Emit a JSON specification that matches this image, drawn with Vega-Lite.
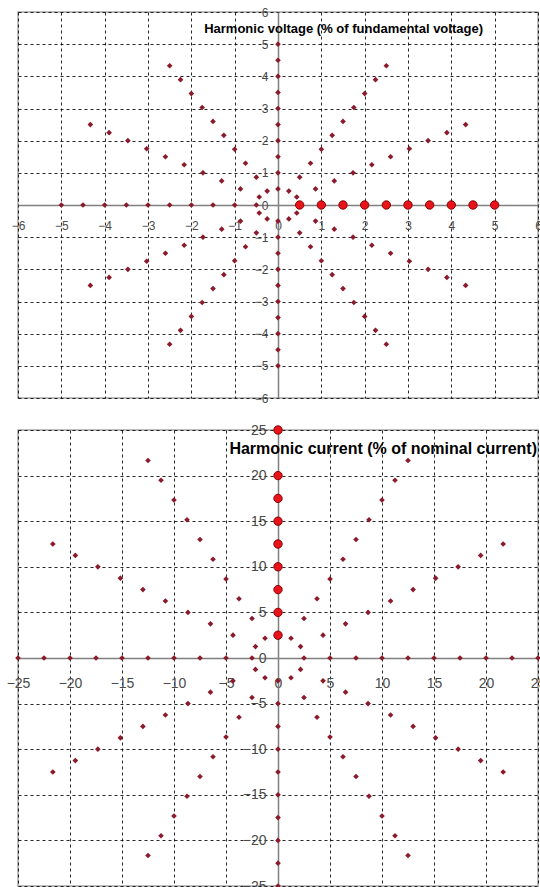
{
  "$schema": "https://vega.github.io/schema/vega-lite/v6.json",
  "background": "white",
  "padding": {"left": 5, "top": 5, "right": 2, "bottom": 2},
  "bounds": "flush",
  "spacing": 32,
  "config": {
    "font": "Liberation Sans",
    "view": {"stroke": "#a6a6a6", "strokeWidth": 1.5},
    "axis": {
      "labelFont": "Liberation Sans",
      "labelFontSize": 12,
      "labelColor": "#4a4a4a",
      "domainColor": "#808080",
      "domainWidth": 1.5,
      "gridColor": "#000000",
      "gridDash": [3, 3],
      "gridOpacity": 0.85,
      "ticks": false,
      "labelOverlap": false,
      "labelFlush": false,
      "labelBound": false,
      "title": null
    },
    "title": {"font": "Liberation Sans", "fontWeight": "bold", "color": "#000000"}
  },
  "datasets": {
    "voltageOther": [
      {"x":0.433,"y":0.25},{"x":0.866,"y":0.5},{"x":1.299,"y":0.75},{"x":1.732,"y":1},{"x":2.165,"y":1.25},{"x":2.598,"y":1.5},{"x":3.031,"y":1.75},{"x":3.464,"y":2},{"x":3.897,"y":2.25},{"x":4.33,"y":2.5},
      {"x":0.25,"y":0.433},{"x":0.5,"y":0.866},{"x":0.75,"y":1.299},{"x":1,"y":1.732},{"x":1.25,"y":2.165},{"x":1.5,"y":2.598},{"x":1.75,"y":3.031},{"x":2,"y":3.464},{"x":2.25,"y":3.897},{"x":2.5,"y":4.33},
      {"x":0,"y":0.5},{"x":0,"y":1},{"x":0,"y":1.5},{"x":0,"y":2},{"x":0,"y":2.5},{"x":0,"y":3},{"x":0,"y":3.5},{"x":0,"y":4},{"x":0,"y":4.5},{"x":0,"y":5},
      {"x":-0.25,"y":0.433},{"x":-0.5,"y":0.866},{"x":-0.75,"y":1.299},{"x":-1,"y":1.732},{"x":-1.25,"y":2.165},{"x":-1.5,"y":2.598},{"x":-1.75,"y":3.031},{"x":-2,"y":3.464},{"x":-2.25,"y":3.897},{"x":-2.5,"y":4.33},
      {"x":-0.433,"y":0.25},{"x":-0.866,"y":0.5},{"x":-1.299,"y":0.75},{"x":-1.732,"y":1},{"x":-2.165,"y":1.25},{"x":-2.598,"y":1.5},{"x":-3.031,"y":1.75},{"x":-3.464,"y":2},{"x":-3.897,"y":2.25},{"x":-4.33,"y":2.5},
      {"x":-0.5,"y":0},{"x":-1,"y":0},{"x":-1.5,"y":0},{"x":-2,"y":0},{"x":-2.5,"y":0},{"x":-3,"y":0},{"x":-3.5,"y":0},{"x":-4,"y":0},{"x":-4.5,"y":0},{"x":-5,"y":0},
      {"x":-0.433,"y":-0.25},{"x":-0.866,"y":-0.5},{"x":-1.299,"y":-0.75},{"x":-1.732,"y":-1},{"x":-2.165,"y":-1.25},{"x":-2.598,"y":-1.5},{"x":-3.031,"y":-1.75},{"x":-3.464,"y":-2},{"x":-3.897,"y":-2.25},{"x":-4.33,"y":-2.5},
      {"x":-0.25,"y":-0.433},{"x":-0.5,"y":-0.866},{"x":-0.75,"y":-1.299},{"x":-1,"y":-1.732},{"x":-1.25,"y":-2.165},{"x":-1.5,"y":-2.598},{"x":-1.75,"y":-3.031},{"x":-2,"y":-3.464},{"x":-2.25,"y":-3.897},{"x":-2.5,"y":-4.33},
      {"x":0,"y":-0.5},{"x":0,"y":-1},{"x":0,"y":-1.5},{"x":0,"y":-2},{"x":0,"y":-2.5},{"x":0,"y":-3},{"x":0,"y":-3.5},{"x":0,"y":-4},{"x":0,"y":-4.5},{"x":0,"y":-5},
      {"x":0.25,"y":-0.433},{"x":0.5,"y":-0.866},{"x":0.75,"y":-1.299},{"x":1,"y":-1.732},{"x":1.25,"y":-2.165},{"x":1.5,"y":-2.598},{"x":1.75,"y":-3.031},{"x":2,"y":-3.464},{"x":2.25,"y":-3.897},{"x":2.5,"y":-4.33},
      {"x":0.433,"y":-0.25},{"x":0.866,"y":-0.5},{"x":1.299,"y":-0.75},{"x":1.732,"y":-1},{"x":2.165,"y":-1.25},{"x":2.598,"y":-1.5},{"x":3.031,"y":-1.75},{"x":3.464,"y":-2},{"x":3.897,"y":-2.25},{"x":4.33,"y":-2.5}
    ],
    "voltageMain": [
      {"x":0.5,"y":0},{"x":1,"y":0},{"x":1.5,"y":0},{"x":2,"y":0},{"x":2.5,"y":0},{"x":3,"y":0},{"x":3.5,"y":0},{"x":4,"y":0},{"x":4.5,"y":0},{"x":5,"y":0}
    ],
    "currentOther": [
      {"x":2.5,"y":0},{"x":5,"y":0},{"x":7.5,"y":0},{"x":10,"y":0},{"x":12.5,"y":0},{"x":15,"y":0},{"x":17.5,"y":0},{"x":20,"y":0},{"x":22.5,"y":0},{"x":25,"y":0},
      {"x":2.165,"y":1.25},{"x":4.33,"y":2.5},{"x":6.495,"y":3.75},{"x":8.66,"y":5},{"x":10.825,"y":6.25},{"x":12.99,"y":7.5},{"x":15.155,"y":8.75},{"x":17.321,"y":10},{"x":19.486,"y":11.25},{"x":21.651,"y":12.5},
      {"x":1.25,"y":2.165},{"x":2.5,"y":4.33},{"x":3.75,"y":6.495},{"x":5,"y":8.66},{"x":6.25,"y":10.825},{"x":7.5,"y":12.99},{"x":8.75,"y":15.155},{"x":10,"y":17.321},{"x":11.25,"y":19.486},{"x":12.5,"y":21.651},
      {"x":-1.25,"y":2.165},{"x":-2.5,"y":4.33},{"x":-3.75,"y":6.495},{"x":-5,"y":8.66},{"x":-6.25,"y":10.825},{"x":-7.5,"y":12.99},{"x":-8.75,"y":15.155},{"x":-10,"y":17.321},{"x":-11.25,"y":19.486},{"x":-12.5,"y":21.651},
      {"x":-2.165,"y":1.25},{"x":-4.33,"y":2.5},{"x":-6.495,"y":3.75},{"x":-8.66,"y":5},{"x":-10.825,"y":6.25},{"x":-12.99,"y":7.5},{"x":-15.155,"y":8.75},{"x":-17.321,"y":10},{"x":-19.486,"y":11.25},{"x":-21.651,"y":12.5},
      {"x":-2.5,"y":0},{"x":-5,"y":0},{"x":-7.5,"y":0},{"x":-10,"y":0},{"x":-12.5,"y":0},{"x":-15,"y":0},{"x":-17.5,"y":0},{"x":-20,"y":0},{"x":-22.5,"y":0},{"x":-25,"y":0},
      {"x":-2.165,"y":-1.25},{"x":-4.33,"y":-2.5},{"x":-6.495,"y":-3.75},{"x":-8.66,"y":-5},{"x":-10.825,"y":-6.25},{"x":-12.99,"y":-7.5},{"x":-15.155,"y":-8.75},{"x":-17.321,"y":-10},{"x":-19.486,"y":-11.25},{"x":-21.651,"y":-12.5},
      {"x":-1.25,"y":-2.165},{"x":-2.5,"y":-4.33},{"x":-3.75,"y":-6.495},{"x":-5,"y":-8.66},{"x":-6.25,"y":-10.825},{"x":-7.5,"y":-12.99},{"x":-8.75,"y":-15.155},{"x":-10,"y":-17.321},{"x":-11.25,"y":-19.486},{"x":-12.5,"y":-21.651},
      {"x":0,"y":-2.5},{"x":0,"y":-5},{"x":0,"y":-7.5},{"x":0,"y":-10},{"x":0,"y":-12.5},{"x":0,"y":-15},{"x":0,"y":-17.5},{"x":0,"y":-20},{"x":0,"y":-22.5},{"x":0,"y":-25},
      {"x":1.25,"y":-2.165},{"x":2.5,"y":-4.33},{"x":3.75,"y":-6.495},{"x":5,"y":-8.66},{"x":6.25,"y":-10.825},{"x":7.5,"y":-12.99},{"x":8.75,"y":-15.155},{"x":10,"y":-17.321},{"x":11.25,"y":-19.486},{"x":12.5,"y":-21.651},
      {"x":2.165,"y":-1.25},{"x":4.33,"y":-2.5},{"x":6.495,"y":-3.75},{"x":8.66,"y":-5},{"x":10.825,"y":-6.25},{"x":12.99,"y":-7.5},{"x":15.155,"y":-8.75},{"x":17.321,"y":-10},{"x":19.486,"y":-11.25},{"x":21.651,"y":-12.5}
    ],
    "currentMain": [
      {"x":0,"y":2.5},{"x":0,"y":5},{"x":0,"y":7.5},{"x":0,"y":10},{"x":0,"y":12.5},{"x":0,"y":15},{"x":0,"y":17.5},{"x":0,"y":20},{"x":0,"y":25}
    ]
  },
  "vconcat": [
    {
      "width": 520,
      "height": 386,
      "title": {"text": "Harmonic voltage (% of fundamental voltage)", "anchor": "end", "frame": "group", "fontSize": 13, "dx": -55, "dy": 40, "offset": 0, "baseline": "alphabetic"},
      "encoding": {
        "x": {"field": "x", "type": "quantitative", "scale": {"domain": [-6, 6], "nice": false, "zero": false},
              "axis": {"values": [-6,-5,-4,-3,-2,-1,0,1,2,3,4,5,6], "offset": -193, "grid": true, "labelPadding": 15}},
        "y": {"field": "y", "type": "quantitative", "scale": {"domain": [-6, 6], "nice": false, "zero": false},
              "axis": {"values": [-6,-5,-4,-3,-2,-1,0,1,2,3,4,5,6], "offset": -260, "grid": true, "labelPadding": 10}}
      },
      "layer": [
        {"data": {"name": "voltageOther"}, "mark": {"type": "point", "shape": "diamond", "filled": true, "size": 32, "color": "#8b1a2b", "opacity": 1}},
        {"data": {"name": "voltageMain"}, "mark": {"type": "point", "shape": "circle", "filled": true, "size": 70, "fill": "#e8141b", "stroke": "#8b0000", "strokeWidth": 1, "opacity": 1}}
      ]
    },
    {
      "width": 520,
      "height": 456,
      "title": {"text": "Harmonic current (% of nominal current)", "anchor": "end", "frame": "group", "fontSize": 16, "dx": -1, "dy": 47, "offset": 0, "baseline": "alphabetic"},
      "encoding": {
        "x": {"field": "x", "type": "quantitative", "scale": {"domain": [-25, 25], "nice": false, "zero": false},
              "axis": {"values": [-25,-20,-15,-10,-5,0,5,10,15,20,25], "offset": -228, "grid": true, "labelPadding": 18, "labelFontSize": 14}},
        "y": {"field": "y", "type": "quantitative", "scale": {"domain": [-25, 25], "nice": false, "zero": false},
              "axis": {"values": [-25,-20,-15,-10,-5,0,5,10,15,20,25], "offset": -260, "grid": true, "labelPadding": 12, "labelFontSize": 14}}
      },
      "layer": [
        {"data": {"name": "currentOther"}, "mark": {"type": "point", "shape": "diamond", "filled": true, "size": 32, "color": "#8b1a2b", "opacity": 1}},
        {"data": {"name": "currentMain"}, "mark": {"type": "point", "shape": "circle", "filled": true, "size": 70, "fill": "#e8141b", "stroke": "#8b0000", "strokeWidth": 1, "opacity": 1}}
      ]
    }
  ]
}
